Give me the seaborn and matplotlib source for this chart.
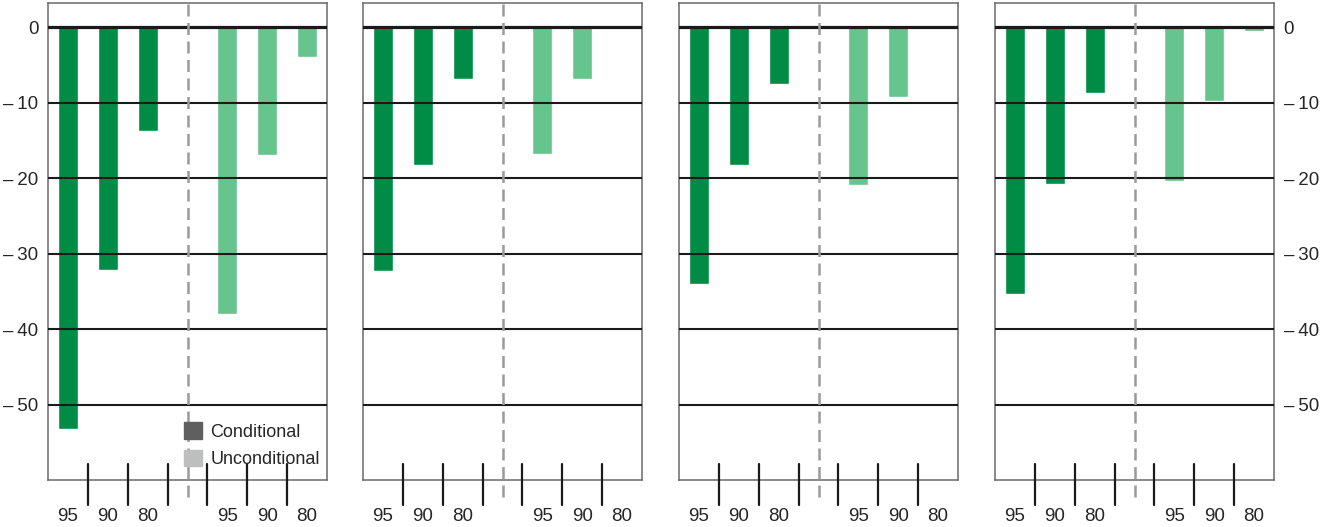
import pandas as pd
import matplotlib
matplotlib.use('Agg')
import matplotlib.pyplot as plt
from matplotlib.patches import Patch
from matplotlib.ticker import FuncFormatter, FixedLocator
import seaborn as sns

# data (percent change, negative = decline)
percentiles = ['95', '90', '80']
conditional = [
    [-53.3, -32.2, -13.8],
    [-32.3, -18.3, -6.9],
    [-34.0, -18.3, -7.5],
    [-35.4, -20.8, -8.7],
]
unconditional = [
    [-38.0, -16.9, -4.0],
    [-16.8, -6.9, -0.25],
    [-20.9, -9.3, -0.3],
    [-20.4, -9.8, -0.5],
]
y_ticks = [0, -10, -20, -30, -40, -50]

DARK = '#008C45'
LIGHT = '#66C48D'
slots = ['c95', 'c90', 'c80', 'gap', 'u95', 'u90', 'u80']


def build_frame():
    rows = []
    for p in range(4):
        for lab, v in zip(percentiles, conditional[p]):
            rows.append(dict(panel=p, slot='c' + lab, value=v, kind='Conditional'))
        for lab, v in zip(percentiles, unconditional[p]):
            rows.append(dict(panel=p, slot='u' + lab, value=v, kind='Unconditional'))
    return pd.DataFrame(rows)


def fmt(v, pos):
    v = int(round(v))
    return '0' if v == 0 else '\u2013\u2009' + str(abs(v))


def draw_panel(ax, sub, idx):
    sns.barplot(
        data=sub, x='slot', y='value', hue='kind', order=slots,
        hue_order=['Conditional', 'Unconditional'],
        palette=[DARK, LIGHT], dodge=False, width=0.5, saturation=1,
        errorbar=None, legend=False, ax=ax, zorder=2,
    )
    ax.set_xlim(-0.5, 6.5)
    ax.set_ylim(-60, 3.2)
    ax.set_xlabel('')
    ax.set_ylabel('')

    # horizontal rules drawn above the bars
    for t in y_ticks:
        ax.axhline(t, color='#1a1a1a', lw=2.3 if t == 0 else 1.5, zorder=3)

    # dashed separator between conditional / unconditional groups
    ax.axvline(3, ymin=-0.036, ymax=1, color='#9a9a9a', lw=1.8,
               ls=(0, (4.8, 2.6)), clip_on=False, zorder=4)

    # category labels under bars
    ax.xaxis.set_major_locator(FixedLocator([0, 1, 2, 4, 5, 6]))
    ax.set_xticklabels(percentiles + percentiles)
    ax.tick_params(axis='x', which='major', length=0, pad=20, labelsize=13.5)

    # separator ticks crossing the bottom axis
    trans = ax.get_xaxis_transform()
    for x in [0.5, 1.5, 2.5, 3.5, 4.5, 5.5]:
        ax.plot([x, x], [-0.053, 0.034], color='#1a1a1a', lw=1.6,
                transform=trans, clip_on=False, zorder=4)

    ax.yaxis.set_major_locator(FixedLocator(y_ticks))
    ax.yaxis.set_major_formatter(FuncFormatter(fmt))
    ax.tick_params(axis='y', length=0, pad=7, labelsize=13.5)
    if idx == 3:
        ax.yaxis.tick_right()
        ax.tick_params(axis='y', length=0, pad=7, labelsize=13.5)
    elif idx != 0:
        ax.tick_params(axis='y', labelleft=False)

    for s in ax.spines.values():
        s.set_visible(True)
        s.set_color('#6a6a6a')
        s.set_linewidth(1.1)


def main():
    sns.set_style('white')
    plt.rcParams['font.family'] = ['Liberation Sans', 'DejaVu Sans']

    df = build_frame()
    fig = plt.figure(figsize=(13.2, 5.27), dpi=100)
    lefts = [48, 363, 679, 995]
    W, H = 1320, 527
    axes = []
    for i, l in enumerate(lefts):
        ax = fig.add_axes([l / W, 1 - 480 / H, 279 / W, 477 / H])
        draw_panel(ax, df[df.panel == i], i)
        axes.append(ax)

    handles = [Patch(color='#5F5F5F'), Patch(color='#BDBEC0')]
    leg = axes[0].legend(
        handles, ['Conditional', 'Unconditional'],
        loc='lower right', bbox_to_anchor=(1.0, 0.01), frameon=False,
        handlelength=1.0, handleheight=1.0, handletextpad=0.45,
        labelspacing=0.5, borderpad=0.2, borderaxespad=0.2,
        prop={'size': 13},
    )
    leg.set_zorder(5)

    fig.savefig('out.png', dpi=100)
    plt.close(fig)


if __name__ == '__main__':
    main()
